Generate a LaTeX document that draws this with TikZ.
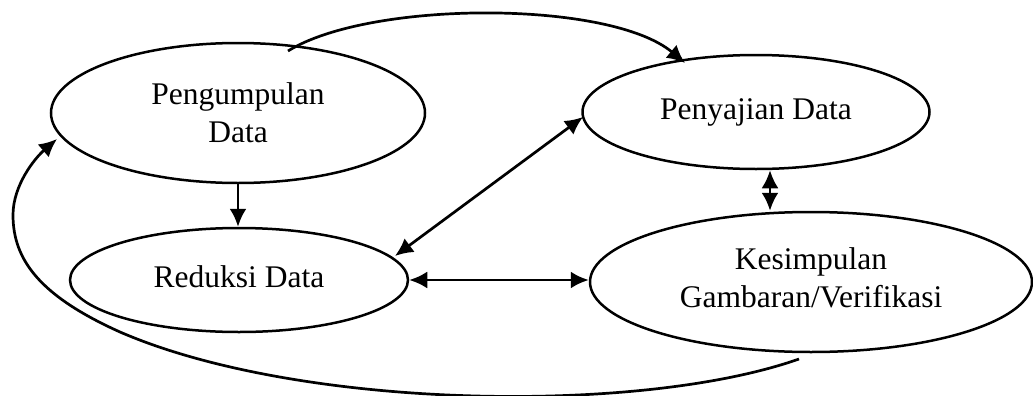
\documentclass[tikz,border=0pt]{standalone}
\usepackage{fontspec}
\setmainfont{Liberation Serif}
\usetikzlibrary{shapes.geometric,arrows.meta,calc}
\begin{document}
\begin{tikzpicture}[x=0.5pt,y=-0.5pt,
  oval/.style={draw,ellipse,line width=1.25pt,inner sep=0pt,align=center,
    font=\fontsize{15.75pt}{19pt}\selectfont},
  arr/.style={line width=1.35pt,-{Latex[length=9pt,width=8.5pt]}},
  arrtwo/.style={line width=1.35pt,{Latex[length=9pt,width=8.5pt]}-{Latex[length=9pt,width=8.5pt]}}]
\useasboundingbox (0,0) rectangle (1033,396);
\node[oval,minimum width=187pt,minimum height=70pt] (p) at (238,113) {Pengumpulan\\Data};
\node[oval,minimum width=173.5pt,minimum height=57pt] (y) at (756,112) {Penyajian Data};
\node[oval,minimum width=169pt,minimum height=52pt,text depth=3pt] (r) at (239,280) {Reduksi Data};
\node[oval,minimum width=221pt,minimum height=70pt,text depth=4.7pt] (k) at (811,282) {Kesimpulan\\Gambaran/Verifikasi};
\draw[arr] (p.south) -- (p.south |- r.north);
\draw[arrtwo] ($(r.center)+(156,-24)$) -- ($(y.center)+(-173,5)$);
\draw[arrtwo] (r.east) -- (r.east -| k.west);
\draw[arrtwo] ([xshift=7pt]y.south) -- ([xshift=7pt]y.south |- k.north);
\draw[arr] ($(p.center)+(50,-62)$) .. controls (370,0) and (610,0) .. ($(y.center)+(-71,-49)$);
\draw[arr] ($(k.center)+(-12,77)$) .. controls (640,415) and (300,410) .. (120,332)
  .. controls (40,296) and (13,260) .. (13,215)
  .. controls (13,185) and (35,158) .. ($(p.center)+(-181,26)$);
\end{tikzpicture}
\end{document}
